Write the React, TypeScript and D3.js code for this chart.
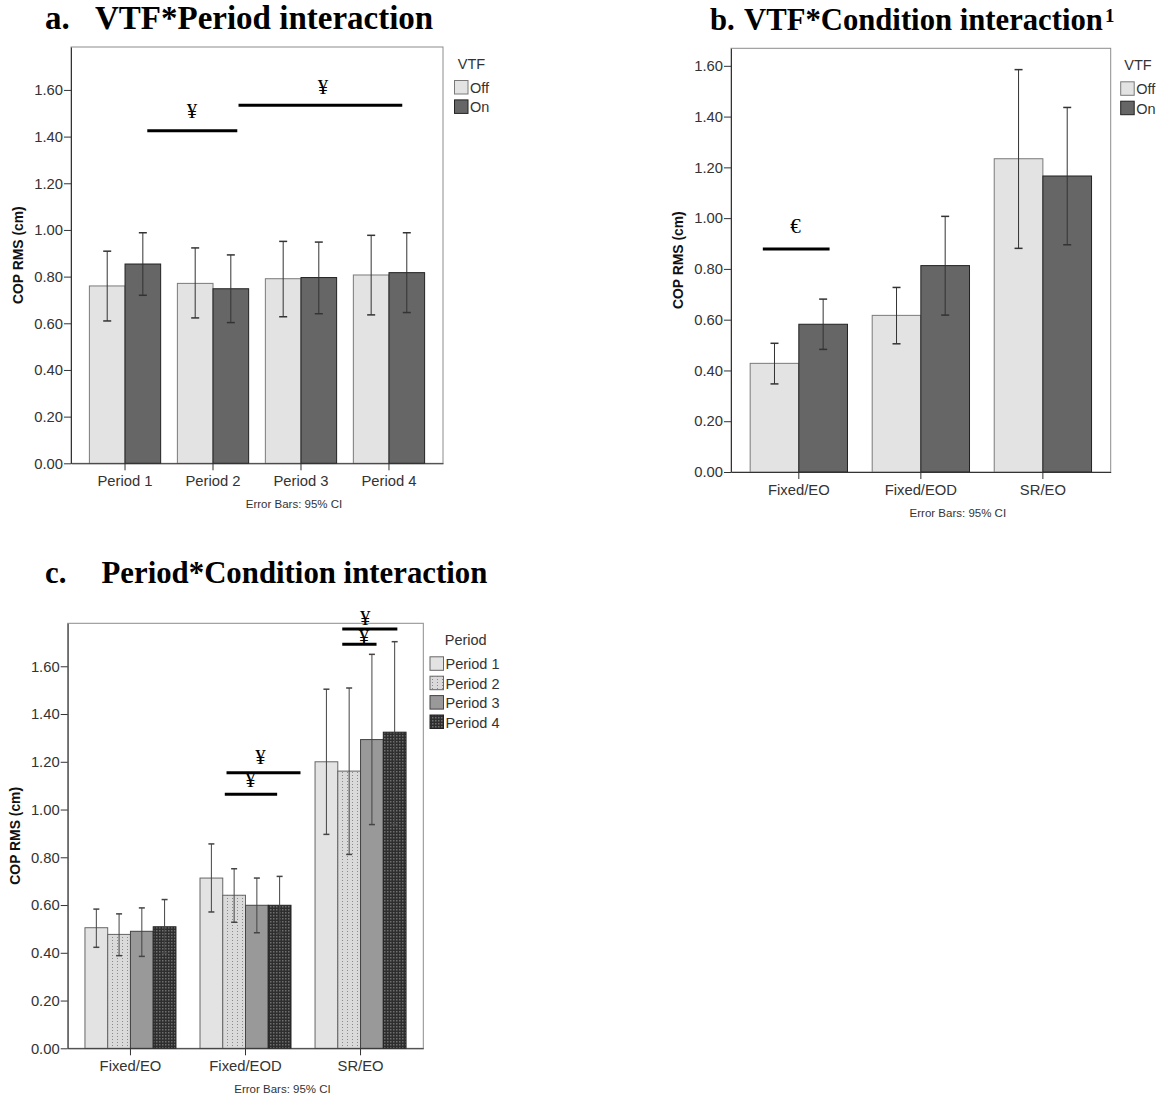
import React, { useEffect, useRef } from "react";
import * as d3 from "d3";

// ---------- data ----------
const yTicks = [0, 0.2, 0.4, 0.6, 0.8, 1.0, 1.2, 1.4, 1.6];

const periodCategories = ["Period 1", "Period 2", "Period 3", "Period 4"];
const conditionCategories = ["Fixed/EO", "Fixed/EOD", "SR/EO"];
const vtfLevels = ["Off", "On"];
const periodLevels = ["Period 1", "Period 2", "Period 3", "Period 4"];

// Panel a: VTF * Period
const aOffMean = [0.76, 0.771, 0.791, 0.807];
const aOffLow = [0.61, 0.623, 0.628, 0.636];
const aOffHigh = [0.909, 0.923, 0.951, 0.977];
const aOnMean = [0.854, 0.748, 0.796, 0.817];
const aOnLow = [0.72, 0.603, 0.641, 0.646];
const aOnHigh = [0.988, 0.893, 0.948, 0.988];

// Panel b: VTF * Condition
const bOffMean = [0.428, 0.617, 1.234];
const bOffLow = [0.347, 0.505, 0.881];
const bOffHigh = [0.507, 0.727, 1.585];
const bOnMean = [0.582, 0.813, 1.166];
const bOnLow = [0.483, 0.618, 0.895];
const bOnHigh = [0.681, 1.007, 1.436];

// Panel c: Period * Condition
const cP1Mean = [0.505, 0.713, 1.2];
const cP1Low = [0.423, 0.571, 0.896];
const cP1High = [0.583, 0.856, 1.504];
const cP2Mean = [0.477, 0.641, 1.161];
const cP2Low = [0.388, 0.528, 0.812];
const cP2High = [0.563, 0.752, 1.509];
const cP3Mean = [0.49, 0.599, 1.293];
const cP3Low = [0.385, 0.484, 0.937];
const cP3High = [0.588, 0.713, 1.65];
const cP4Mean = [0.509, 0.599, 1.324];
const cP4Low = [0.398, 0.482, 0.938];
const cP4High = [0.623, 0.72, 1.703];

// Significance annotations (x in category-index units, y in data units)
const aSigLines = [
  { x0: 0.253, x1: 1.276, y: 1.425 },
  { x0: 1.29, x1: 3.151, y: 1.534 },
];
const aSigSymbols = [
  { x: 0.76, y: 1.511, text: "¥" },
  { x: 2.25, y: 1.611, text: "¥" },
];
const bSigLines = [{ x0: -0.295, x1: 0.252, y: 0.878 }];
const bSigSymbols = [{ x: -0.027, y: 0.969, text: "€" }];
const cSigLines = [
  { x0: 0.82, x1: 1.275, y: 1.064 },
  { x0: 0.835, x1: 1.478, y: 1.154 },
  { x0: 1.841, x1: 2.139, y: 1.692 },
  { x0: 1.841, x1: 2.32, y: 1.756 },
];
const cSigSymbols = [
  { x: 1.13, y: 1.219, text: "¥" },
  { x: 1.043, y: 1.124, text: "¥" },
  { x: 2.04, y: 1.801, text: "¥" },
  { x: 2.029, y: 1.724, text: "¥" },
];

// ---------- styles ----------
const SANS = "'Liberation Sans', Arial, sans-serif";
const SERIF = "'Liberation Serif', 'Times New Roman', serif";
const TEXT = "#333";

type Series = { name: string; mean: number[]; low: number[]; high: number[]; fill: string; stroke: string };

type PanelCfg = {
  frame: { left: number; top: number; right: number; bottom: number };
  yMax: number;
  padInner: number;
  padOuter: number;
  categories: string[];
  series: Series[];
  legendTitle: string;
  legendBoxX: number;
  legendTitleX: number;
  capW: number;
  errColor: string;
  lines: { x0: number; x1: number; y: number }[];
  symbols: { x: number; y: number; text: string }[];
};

function drawPanel(svg: d3.Selection<SVGSVGElement, unknown, null, undefined>, cfg: PanelCfg) {
  const { frame } = cfg;
  const g = svg.append("g");
  const y = d3.scaleLinear().domain([0, cfg.yMax]).range([frame.bottom, frame.top]);
  const x = d3
    .scaleBand<string>()
    .domain(cfg.categories)
    .range([frame.left, frame.right])
    .paddingInner(cfg.padInner)
    .paddingOuter(cfg.padOuter);
  const xs = d3
    .scaleBand<string>()
    .domain(cfg.series.map((s) => s.name))
    .range([0, x.bandwidth()])
    .padding(0);
  const xIdx = (v: number) => (x(cfg.categories[0]) as number) + x.bandwidth() / 2 + v * x.step();

  // frame
  g.append("rect")
    .attr("x", frame.left)
    .attr("y", frame.top)
    .attr("width", frame.right - frame.left)
    .attr("height", frame.bottom - frame.top)
    .attr("fill", "#fff")
    .attr("stroke", "#8c8c8c")
    .attr("stroke-width", 1);

  // bars
  cfg.series.forEach((s) => {
    g.append("g")
      .selectAll("rect")
      .data(cfg.categories)
      .join("rect")
      .attr("x", (c) => (x(c) as number) + (xs(s.name) as number))
      .attr("y", (c, i) => y(s.mean[i]))
      .attr("width", xs.bandwidth())
      .attr("height", (c, i) => y(0) - y(s.mean[i]))
      .attr("fill", s.fill)
      .attr("stroke", s.stroke)
      .attr("stroke-width", 1);
  });

  // error bars
  cfg.series.forEach((s) => {
    const eg = g.append("g").attr("stroke", cfg.errColor).attr("stroke-width", 1).attr("fill", "none");
    cfg.categories.forEach((c, i) => {
      const cx = (x(c) as number) + (xs(s.name) as number) + xs.bandwidth() / 2;
      eg.append("line").attr("x1", cx).attr("x2", cx).attr("y1", y(s.low[i])).attr("y2", y(s.high[i]));
      [s.low[i], s.high[i]].forEach((v) => {
        eg.append("line")
          .attr("x1", cx - cfg.capW / 2)
          .attr("x2", cx + cfg.capW / 2)
          .attr("y1", y(v))
          .attr("y2", y(v))
          .attr("stroke-width", 1.5);
      });
    });
  });

  // axes
  const yAxis = d3
    .axisLeft(y)
    .tickValues(yTicks)
    .tickFormat(d3.format(".2f") as any)
    .tickSize(7)
    .tickSizeOuter(0)
    .tickPadding(1);
  const ya = g.append("g").attr("transform", `translate(${frame.left},0)`).call(yAxis);
  ya.selectAll("text").attr("font-family", SANS).attr("font-size", 14.8).attr("fill", TEXT);
  ya.selectAll("line").attr("stroke", "#333");
  ya.select(".domain").attr("stroke", "#333");

  const xAxis = d3.axisBottom(x).tickSize(7).tickSizeOuter(0).tickPadding(5);
  const xa = g.append("g").attr("transform", `translate(0,${frame.bottom})`).call(xAxis);
  xa.selectAll("text").attr("font-family", SANS).attr("font-size", 14.8).attr("fill", TEXT);
  xa.selectAll("line").attr("stroke", "#333");
  xa.select(".domain").attr("stroke", "#333");

  // y label
  g.append("text")
    .attr("transform", `translate(${frame.left - 53},${(frame.top + frame.bottom) / 2}) rotate(-90)`)
    .attr("text-anchor", "middle")
    .attr("dominant-baseline", "central")
    .attr("font-family", SANS)
    .attr("font-weight", "bold")
    .attr("font-size", 13.9)
    .attr("fill", "#111")
    .text("COP RMS (cm)");

  // footnote
  g.append("text")
    .attr("x", (frame.left + frame.right) / 2 + 37)
    .attr("y", frame.bottom + 45)
    .attr("text-anchor", "middle")
    .attr("font-family", SANS)
    .attr("font-size", 11.5)
    .attr("fill", TEXT)
    .text("Error Bars: 95% CI");

  // legend
  g.append("text")
    .attr("x", cfg.legendTitleX)
    .attr("y", frame.top + 17)
    .attr("dominant-baseline", "central")
    .attr("text-anchor", "middle")
    .attr("font-family", SANS)
    .attr("font-size", 14.5)
    .attr("fill", TEXT)
    .text(cfg.legendTitle);
  cfg.series.forEach((s, i) => {
    const top = frame.top + 33.5 + i * 19.4;
    g.append("rect")
      .attr("x", cfg.legendBoxX)
      .attr("y", top)
      .attr("width", 13.5)
      .attr("height", 13.5)
      .attr("fill", s.fill)
      .attr("stroke", s.stroke)
      .attr("stroke-width", 1);
    g.append("text")
      .attr("x", cfg.legendBoxX + 15.5)
      .attr("y", top + 7.5)
      .attr("dominant-baseline", "central")
      .attr("font-family", SANS)
      .attr("font-size", 14.5)
      .attr("fill", TEXT)
      .text(s.name);
  });

  // significance annotations
  cfg.lines.forEach((l) => {
    g.append("line")
      .attr("x1", xIdx(l.x0))
      .attr("x2", xIdx(l.x1))
      .attr("y1", y(l.y))
      .attr("y2", y(l.y))
      .attr("stroke", "#000")
      .attr("stroke-width", 3);
  });
  cfg.symbols.forEach((sy) => {
    g.append("text")
      .attr("x", xIdx(sy.x))
      .attr("y", y(sy.y) + 7)
      .attr("text-anchor", "middle")
      .attr("font-family", SERIF)
      .attr("font-size", 21)
      .attr("fill", "#000")
      .text(sy.text);
  });
}

export default function App() {
  const ref = useRef<SVGSVGElement>(null);
  useEffect(() => {
    const svg = d3.select(ref.current as SVGSVGElement);
    svg.selectAll("*").remove();

    // patterns
    const defs = svg.append("defs");
    const p2 = defs
      .append("pattern")
      .attr("id", "pat-p2")
      .attr("patternUnits", "userSpaceOnUse")
      .attr("width", 5)
      .attr("height", 3);
    p2.append("rect").attr("width", 5).attr("height", 3).attr("fill", "#dadada");
    p2.append("rect").attr("x", 2).attr("y", 1).attr("width", 1).attr("height", 1).attr("fill", "#8a8a8a");
    const p4 = defs
      .append("pattern")
      .attr("id", "pat-p4")
      .attr("patternUnits", "userSpaceOnUse")
      .attr("width", 3)
      .attr("height", 3);
    p4.append("rect").attr("width", 3).attr("height", 3).attr("fill", "#2e2e2e");
    p4.append("rect").attr("x", 0).attr("y", 0).attr("width", 1.5).attr("height", 1.5).attr("fill", "#6e6e6e");

    // titles
    const title = (x: number, yb: number, t: string, size = 30) =>
      svg
        .append("text")
        .attr("x", x)
        .attr("y", yb)
        .attr("font-family", SERIF)
        .attr("font-weight", "bold")
        .attr("font-size", size)
        .attr("fill", "#000")
        .text(t);
    title(45, 29, "a.", 33);
    title(95, 29, "VTF*Period interaction", 33);
    title(710, 30, "b.", 30.7);
    title(744, 30, "VTF*Condition interaction", 30.7);
    title(1105, 22, "1", 19);
    title(45, 583, "c.", 30.8);
    title(101.5, 583, "Period*Condition interaction", 30.8);

    drawPanel(svg as any, {
      frame: { left: 71, top: 47, right: 443, bottom: 463.3 },
      yMax: 1.784,
      padInner: 0.19,
      padOuter: 0.209,
      categories: periodCategories,
      series: [
        { name: vtfLevels[0], mean: aOffMean, low: aOffLow, high: aOffHigh, fill: "#e3e3e3", stroke: "#7a7a7a" },
        { name: vtfLevels[1], mean: aOnMean, low: aOnLow, high: aOnHigh, fill: "#666666", stroke: "#222" },
      ],
      legendTitle: "VTF",
      legendBoxX: 454.5,
      legendTitleX: 471.5,
      capW: 8,
      errColor: "#333",
      lines: aSigLines,
      symbols: aSigSymbols,
    });

    drawPanel(svg as any, {
      frame: { left: 731, top: 48.3, right: 1110.7, bottom: 472 },
      yMax: 1.669,
      padInner: 0.2025,
      padOuter: 0.157,
      categories: conditionCategories,
      series: [
        { name: vtfLevels[0], mean: bOffMean, low: bOffLow, high: bOffHigh, fill: "#e3e3e3", stroke: "#7a7a7a" },
        { name: vtfLevels[1], mean: bOnMean, low: bOnLow, high: bOnHigh, fill: "#666666", stroke: "#222" },
      ],
      legendTitle: "VTF",
      legendBoxX: 1120.7,
      legendTitleX: 1138,
      capW: 8,
      errColor: "#333",
      lines: bSigLines,
      symbols: bSigSymbols,
    });

    drawPanel(svg as any, {
      frame: { left: 67.7, top: 623.3, right: 423.3, bottom: 1048.3 },
      yMax: 1.78,
      padInner: 0.209,
      padOuter: 0.15,
      categories: conditionCategories,
      series: [
        { name: periodLevels[0], mean: cP1Mean, low: cP1Low, high: cP1High, fill: "#e3e3e3", stroke: "#666" },
        { name: periodLevels[1], mean: cP2Mean, low: cP2Low, high: cP2High, fill: "url(#pat-p2)", stroke: "#666" },
        { name: periodLevels[2], mean: cP3Mean, low: cP3Low, high: cP3High, fill: "#999999", stroke: "#444" },
        { name: periodLevels[3], mean: cP4Mean, low: cP4Low, high: cP4High, fill: "url(#pat-p4)", stroke: "#222" },
      ],
      legendTitle: "Period",
      legendBoxX: 430,
      legendTitleX: 465.7,
      capW: 6,
      errColor: "#444",
      lines: cSigLines,
      symbols: cSigSymbols,
    });
  }, []);

  return (
    <svg
      ref={ref}
      width={1163}
      height={1101}
      style={{ position: "absolute", left: 0, top: 0, background: "#fff" }}
    />
  );
}
